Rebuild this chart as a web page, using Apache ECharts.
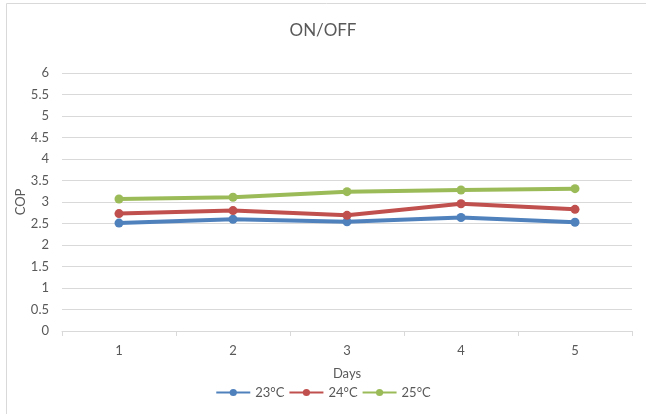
<!DOCTYPE html>
<html>
<head>
<meta charset="utf-8">
<script src="https://cdn.jsdelivr.net/npm/echarts@6/dist/echarts.min.js"></script>
<style>
  html, body { margin: 0; padding: 0; background: #fff; }
  #chart { width: 646px; height: 414px; }
</style>
</head>
<body>
<div id="chart"></div>
<script>
// COP per day for each set-point temperature, ON/OFF control
const days = ['1', '2', '3', '4', '5'];
const cop23 = [2.51, 2.60, 2.54, 2.64, 2.53];
const cop24 = [2.73, 2.80, 2.69, 2.96, 2.83];
const cop25 = [3.07, 3.11, 3.24, 3.28, 3.31];
const seriesNames = ['23°C', '24°C', '25°C'];
const colors = ['#4F81BD', '#C0504D', '#9BBB59'];

const textColor = '#595959';
const gridColor = '#d9d9d9';
const font = 'Lato, "Open Sans", sans-serif';

function lineSeries(name, data, color) {
  return {
    name: name,
    type: 'line',
    data: data,
    symbol: 'circle',
    symbolSize: 9,
    lineStyle: { width: 4, color: color },
    itemStyle: { color: color },
    emphasis: { disabled: true },
    animation: false
  };
}

const chart = echarts.init(document.getElementById('chart'));
chart.setOption({
  animation: false,
  textStyle: { fontFamily: font },
  graphic: [{
    type: 'rect',
    shape: { x: 6.5, y: 3.5, width: 660, height: 430 },
    style: { fill: 'none', stroke: gridColor, lineWidth: 1 },
    silent: true
  }],
  title: {
    text: 'ON/OFF',
    left: 'center',
    top: 17,
    textStyle: { color: textColor, fontSize: 17, fontWeight: 'normal', fontFamily: font }
  },
  legend: {
    data: seriesNames,
    bottom: 10,
    left: 'center',
    itemWidth: 34,
    itemHeight: 9,
    itemGap: 4,
    textStyle: { color: textColor, fontSize: 13, fontFamily: font }
  },
  grid: { left: 62, right: 14, top: 73, bottom: 83 },
  xAxis: {
    type: 'category',
    data: days,
    boundaryGap: true,
    name: 'Days',
    nameLocation: 'middle',
    nameGap: 36,
    nameTextStyle: { color: textColor, fontSize: 13, fontFamily: font },
    axisLine: { lineStyle: { color: gridColor, width: 1 } },
    axisTick: { show: true, length: 5, lineStyle: { color: gridColor } },
    axisLabel: { color: textColor, fontSize: 13, margin: 13, fontFamily: font }
  },
  yAxis: {
    type: 'value',
    min: 0,
    max: 6,
    interval: 0.5,
    name: 'COP',
    nameLocation: 'middle',
    nameGap: 35,
    nameMoveOverlap: false,
    nameTextStyle: { color: textColor, fontSize: 13, fontFamily: font },
    axisLine: { show: false },
    axisTick: { show: false },
    axisLabel: { color: textColor, fontSize: 13, margin: 13, fontFamily: font },
    splitLine: { lineStyle: { color: gridColor, width: 1 } }
  },
  series: [
    lineSeries(seriesNames[0], cop23, colors[0]),
    lineSeries(seriesNames[1], cop24, colors[1]),
    lineSeries(seriesNames[2], cop25, colors[2])
  ]
});
</script>
</body>
</html>
